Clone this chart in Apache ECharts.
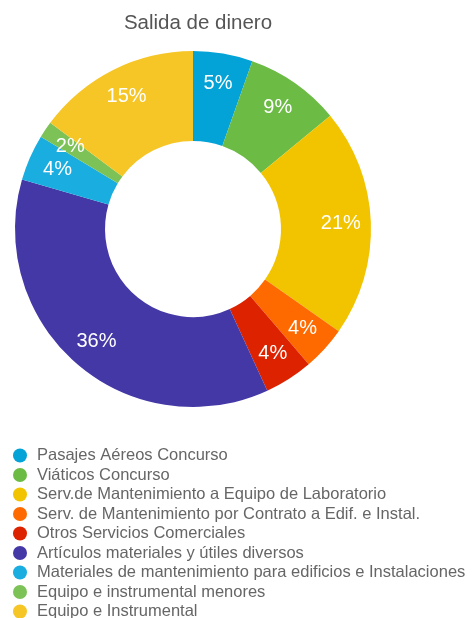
<!DOCTYPE html>
<html>
<head>
<meta charset="utf-8">
<script src="https://cdn.jsdelivr.net/npm/echarts@6/dist/echarts.min.js"></script>
<style>
    html,body{margin:0;padding:0;background:#fff;}
    #chart{width:474px;height:618px;}
</style>
</head>
<body>
<div id="chart"></div>
<script type="text/javascript">
// datos (porcentaje aproximado)
var categorias = [
    "Pasajes Aéreos Concurso",
    "Viáticos Concurso",
    "Serv.de Mantenimiento a Equipo de Laboratorio",
    "Serv. de Mantenimiento por Contrato a Edif. e Instal.",
    "Otros Servicios Comerciales",
    "Artículos materiales y útiles diversos",
    "Materiales de mantenimiento para edificios e Instalaciones",
    "Equipo e instrumental menores",
    "Equipo e Instrumental"
];
var valores = [5.4, 8.6, 20.7, 4.0, 4.4, 36.3, 4.2, 1.5, 14.8];
var colores = ["#03a3d8", "#6cbb45", "#f2c400", "#ff6a00", "#dd2200", "#4438a6", "#1aaee0", "#7dc257", "#f6c627"];

var datos = [];
for (let i = 0; i < categorias.length; i++) {
    datos.push({ name: categorias[i], value: valores[i] });
}

var chart = echarts.init(document.getElementById("chart"));
chart.setOption({
    color: colores,
    animation: false,
    title: {
        text: "Salida de dinero",
        left: 193,
        textAlign: "center",
        top: 8,
        textStyle: { fontFamily: "Liberation Sans", fontSize: 20.5, fontWeight: "normal", color: "#555" }
    },
    legend: {
        orient: "vertical",
        left: 13,
        top: 447,
        height: 190,
        padding: 0,
        icon: "circle",
        itemWidth: 14,
        itemHeight: 14,
        itemGap: 2.5,
        textStyle: { fontFamily: "Liberation Sans", fontSize: 16.5, color: "#666", padding: [0, 0, 0, 5] },
        data: categorias
    },
    series: [
        {
            type: "pie",
            center: [193, 229],
            radius: [88, 178],
            startAngle: 90,
            clockwise: true,
            silent: true,
            label: { show: false },
            labelLine: { show: false },
            data: datos
        },
        {
            // serie transparente solo para colocar las etiquetas un poco mas afuera
            type: "pie",
            center: [193, 229],
            radius: [112, 178],
            startAngle: 90,
            clockwise: true,
            silent: true,
            itemStyle: { color: "transparent" },
            label: {
                show: true,
                position: "inside",
                formatter: function (p) { return Math.round(p.value) + "%"; },
                fontFamily: "Liberation Sans",
                fontSize: 20,
                color: "#fff"
            },
            labelLine: { show: false },
            data: datos
        }
    ]
});
</script>
</body>
</html>
